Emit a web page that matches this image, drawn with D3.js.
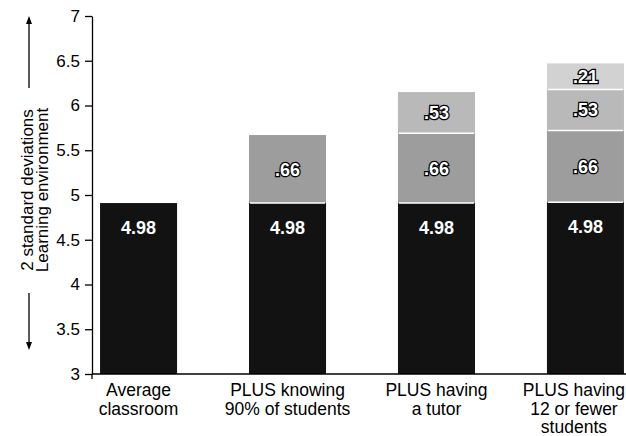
<!DOCTYPE html>
<html>
<head>
<meta charset="utf-8">
<script src="https://cdn.jsdelivr.net/npm/d3@7"></script>
<style>
  body { margin: 0; background: #fff; }
  svg { display: block; font-family: "Liberation Sans", Arial, sans-serif; }
</style>
</head>
<body>
<div id="chart"></div>
<script>
// --------------------------------------
//  Data
// --------------------------------------

const categories = ["Average classroom", "PLUS knowing 90% of students", "PLUS having a tutor", "PLUS having 12 or fewer students"];
const categoryLines = [
  ["Average", "classroom"],
  ["PLUS knowing", "90% of students"],
  ["PLUS having", "a tutor"],
  ["PLUS having", "12 or fewer", "students"]
];
const segments = ["base", "knowing", "tutor", "small"];
const segmentLabels = ["4.98", ".66", ".53", ".21"];
// segment heights as drawn in the picture
const baseValues    = [4.91, 4.91, 4.91, 4.92];
const knowingValues = [0, 0.76, 0.78, 0.80];
const tutorValues   = [0, 0, 0.46, 0.46];
const smallValues   = [0, 0, 0, 0.29];
const yTicks = [3, 3.5, 4, 4.5, 5, 5.5, 6, 6.5, 7];
const yTitle = ["2 standard deviations", "Learning environment"];

const colors = {base: "#121212", knowing: "#9d9d9d", tutor: "#b9b9b9", small: "#d2d2d2"};

// --------------------------------------
//  Canvas
// --------------------------------------

const width = 626;
const height = 436;

const svg = d3.select("#chart")
  .append("svg")
    .attr("width", width)
    .attr("height", height);

const table = categories.map((c, i) => ({
  category: c,
  base: baseValues[i],
  knowing: knowingValues[i],
  tutor: tutorValues[i],
  small: smallValues[i]
}));

const stacked = d3.stack().keys(segments)(table);

// --------------------------------------
//  Scales
// --------------------------------------

const y = d3.scaleLinear()
    .domain([3, 7])
    .range([374, 16]);

const x = d3.scaleBand()
    .domain(categories)
    .range([92, 632])
    .paddingInner(0.483)
    .paddingOuter(0.054);

const lo = p => Math.max(3, p[0]);

// --------------------------------------
//  Bars
// --------------------------------------

stacked.forEach(s => {
  svg.append("g")
      .attr("fill", colors[s.key])
    .selectAll("rect")
    .data(s.filter(p => p[1] - p[0] > 0))
    .join("rect")
      .attr("x", p => x(p.data.category))
      .attr("width", x.bandwidth())
      .attr("y", p => y(p[1]))
      .attr("height", p => y(lo(p)) - y(p[1]));
});

// white separators between segments
stacked.slice(1).forEach(s => {
  svg.append("g")
    .selectAll("line")
    .data(s.filter(p => p[1] - p[0] > 0))
    .join("line")
      .attr("x1", p => x(p.data.category) + 1)
      .attr("x2", p => x(p.data.category) + x.bandwidth() - 1)
      .attr("y1", p => y(p[0]))
      .attr("y2", p => y(p[0]))
      .attr("stroke", "#fff")
      .attr("stroke-width", 1.5);
});

// segment value labels
stacked.forEach((s, k) => {
  svg.append("g")
    .selectAll("text")
    .data(s.filter(p => p[1] - p[0] > 0))
    .join("text")
      .attr("x", p => x(p.data.category) + x.bandwidth() / 2)
      .attr("y", p => k === 0 ? y(p[1]) + 24 : (y(p[0]) + y(p[1])) / 2)
      .attr("dy", "0.36em")
      .attr("text-anchor", "middle")
      .attr("font-size", 18)
      .attr("font-weight", "bold")
      .attr("fill", "#fff")
      .attr("stroke", k === 0 ? "none" : "#000")
      .attr("stroke-width", 2.5)
      .attr("paint-order", "stroke")
      .text(segmentLabels[k]);
});

// --------------------------------------
//  Axes
// --------------------------------------

svg.append("line")
    .attr("x1", 92).attr("x2", width)
    .attr("y1", y(3)).attr("y2", y(3))
    .attr("stroke", "#000")
    .attr("stroke-width", 1.3);

const yAxis = svg.append("g")
    .attr("transform", "translate(92, 0)")
    .call(d3.axisLeft(y)
      .tickValues(yTicks)
      .tickSize(7)
      .tickSizeOuter(0)
      .tickPadding(5)
      .tickFormat(d3.format("~g")));

yAxis.select(".domain").attr("stroke-width", 1.3);
yAxis.selectAll(".tick line").attr("stroke-width", 1.3);
yAxis.selectAll("text")
    .attr("font-size", 17)
    .attr("font-family", "Liberation Sans, Arial, sans-serif")
    .attr("fill", "#000");

// small stub below the origin
svg.append("line")
    .attr("x1", 92).attr("x2", 92)
    .attr("y1", y(3)).attr("y2", y(3) + 5)
    .attr("stroke", "#000")
    .attr("stroke-width", 1.3);

// category labels
const xLabels = svg.append("g")
  .selectAll("text")
  .data(categories)
  .join("text")
    .attr("text-anchor", "middle")
    .attr("font-size", 17.5)
    .attr("fill", "#000");

xLabels.selectAll("tspan")
  .data((d, i) => categoryLines[i])
  .join("tspan")
    .attr("x", 0)
    .attr("y", (d, i) => i * 18.5)
    .text(d => d);

// keep the last label inside the window
xLabels.attr("transform", function(d) {
  const half = d3.max(d3.select(this).selectAll("tspan").nodes(), n => n.getComputedTextLength()) / 2;
  const cx = Math.min(x(d) + x.bandwidth() / 2, width - 1 - half);
  return `translate(${cx}, 396)`;
});

// y title, rotated
const title = svg.append("text")
    .attr("transform", "translate(33, 190) rotate(-90)")
    .attr("text-anchor", "middle")
    .attr("font-size", 17)
    .attr("fill", "#000");

title.selectAll("tspan")
  .data(yTitle)
  .join("tspan")
    .attr("x", 0)
    .attr("y", (d, i) => i * 14.5)
    .text(d => d);

// arrows beside the title
const arrow = (x0, yFrom, yTo) => {
  svg.append("line")
    .attr("x1", x0).attr("x2", x0)
    .attr("y1", yFrom).attr("y2", yTo)
    .attr("stroke", "#000")
    .attr("stroke-width", 1.3);
  const dir = yTo < yFrom ? -1 : 1;
  svg.append("path")
    .attr("d", `M${x0},${yTo + dir * 2} L${x0 - 3},${yTo - dir * 6} L${x0 + 3},${yTo - dir * 6} Z`)
    .attr("fill", "#000");
};
arrow(29, 88, 18);
arrow(29, 293, 348);
</script>
</body>
</html>
